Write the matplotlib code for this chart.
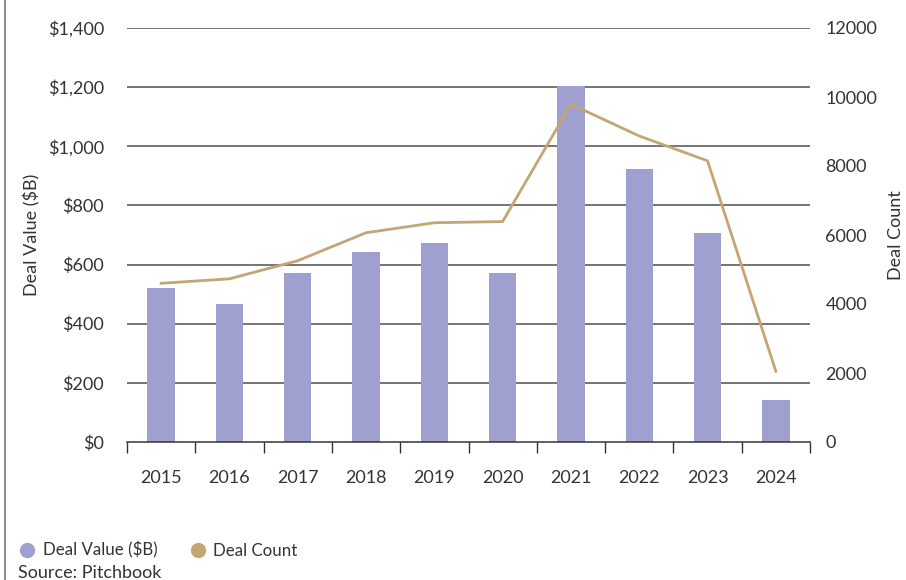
import numpy as np
import matplotlib
matplotlib.use("Agg")
import matplotlib.pyplot as plt
from matplotlib.lines import Line2D

plt.rcParams['font.family'] = ['Lato', 'DejaVu Sans']

years = ['2015', '2016', '2017', '2018', '2019', '2020', '2021', '2022', '2023', '2024']
deal_value = [521, 467, 572, 642, 673, 572, 1205, 923, 706, 141]
deal_count = [4600, 4730, 5255, 6065, 6355, 6390, 9790, 8870, 8150, 2050]
value_ticks = [0, 200, 400, 600, 800, 1000, 1200, 1400]
count_ticks = [0, 2000, 4000, 6000, 8000, 10000, 12000]

bar_color = '#A0A0D0'
line_color = '#C4A574'
text_color = '#333333'
fs = 13

fig = plt.figure(figsize=(9.06, 5.8), dpi=100)
ax = fig.add_axes([127 / 906, 1 - 442 / 580, (810 - 127) / 906, (442 - 28) / 580])
x = np.arange(len(years))

# horizontal grid drawn by hand so it sits behind the bars
for v in value_ticks[1:]:
    ax.axhline(v, color='#5e5e5e', lw=1.2, zorder=0)

ax.bar(x, deal_value, width=0.4, color=bar_color, zorder=2)
ax.set_xlim(-0.5, len(years) - 0.5)
ax.set_ylim(0, 1400)
ax.set_yticks(value_ticks)
ax.set_yticklabels(['$0' if v == 0 else f'${v:,}' for v in value_ticks])
ax.set_xticks(x)
ax.set_xticklabels(years)
ax.set_xticks(np.arange(-0.5, len(years)), minor=True)
ax.tick_params(axis='x', which='major', length=0, pad=20, labelsize=fs, colors=text_color)
ax.tick_params(axis='x', which='minor', length=8, width=1, color='#333333', direction='out')
ax.tick_params(axis='y', length=0, pad=16.5, labelsize=fs, colors=text_color)
for s in ['top', 'left', 'right']:
    ax.spines[s].set_visible(False)
ax.spines['bottom'].set_color('#333333')
ax.spines['bottom'].set_linewidth(1.1)
ax.set_ylabel('Deal Value ($B)', fontsize=fs, color=text_color, labelpad=5)

ax2 = ax.twinx()
ax2.plot(x, deal_count, color=line_color, lw=2.0, zorder=3)
ax2.set_ylim(0, 12000)
ax2.set_yticks(count_ticks)
ax2.set_yticklabels([str(v) for v in count_ticks])
ax2.tick_params(axis='y', length=0, pad=11, labelsize=fs, colors=text_color)
for s in ['top', 'left', 'right', 'bottom']:
    ax2.spines[s].set_visible(False)
ax2.set_ylabel('Deal Count', fontsize=fs, color=text_color, labelpad=8)

# legend and source line under the chart
handles = [
    Line2D([], [], marker='o', ls='none', color=bar_color, markersize=10, label='Deal Value ($B)'),
    Line2D([], [], marker='o', ls='none', color=line_color, markersize=10, label='Deal Count'),
]
fig.legend(handles=handles, loc='center left', bbox_to_anchor=(19 / 906, 1 - 550 / 580),
           ncol=2, frameon=False, fontsize=12.2, handlelength=1.0, handletextpad=0.4,
           columnspacing=1.9, labelcolor=text_color, borderaxespad=0, borderpad=0)
fig.text(18 / 906, 1 - 573 / 580, 'Source: Pitchbook', fontsize=fs, color=text_color,
         va='center', ha='left')

fig.add_artist(Line2D([5 / 906, 5 / 906], [0, 1], color='#777777', lw=1.2))

fig.savefig('out.png', dpi=100)
